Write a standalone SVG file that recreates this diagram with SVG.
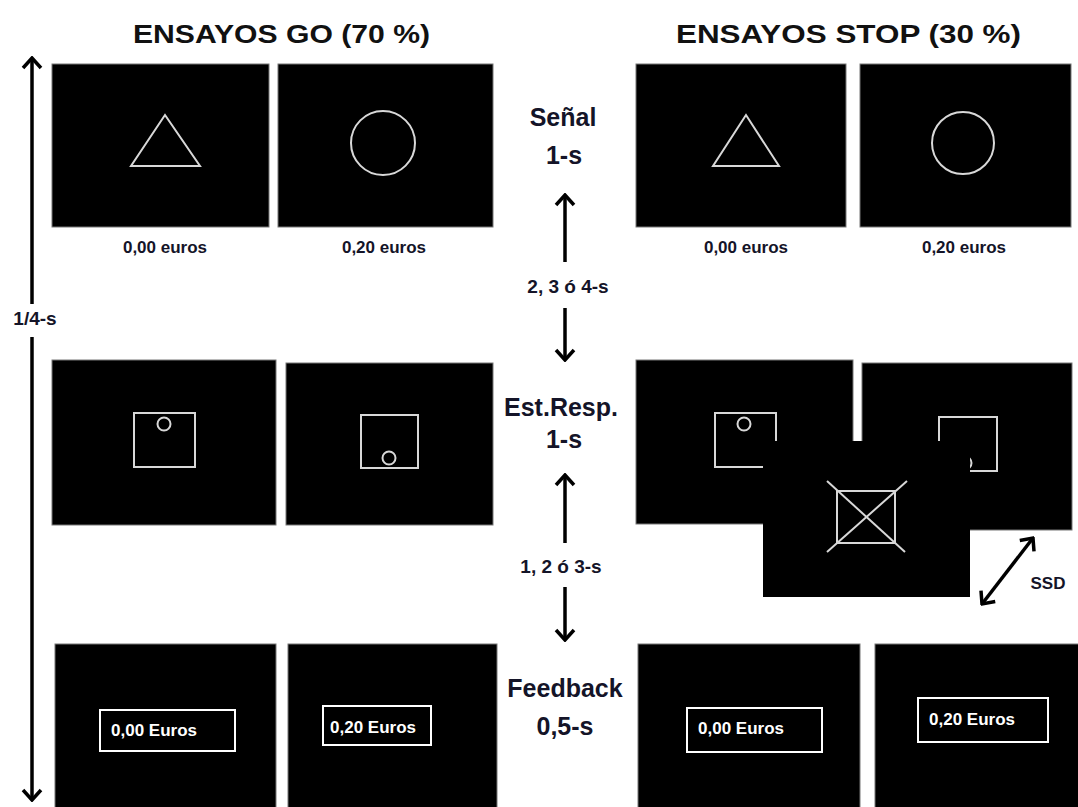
<svg xmlns="http://www.w3.org/2000/svg" width="1078" height="807" viewBox="0 0 1078 807">
<defs>
<style>
.scr{fill:#000;stroke:#777;stroke-width:1}
.scr2{fill:#000;stroke:none}
.shp{fill:none;stroke:#d8d8d8;stroke-width:2}
.ttl{font-family:"Liberation Sans",Arial,sans-serif;font-weight:bold;font-size:26px;fill:#111}
.mid{font-family:"Liberation Sans",Arial,sans-serif;font-weight:bold;font-size:25px;fill:#141428;text-anchor:middle}
.lbl{font-family:"Liberation Sans",Arial,sans-serif;font-weight:bold;font-size:17px;fill:#141428;text-anchor:middle}
.dur{font-family:"Liberation Sans",Arial,sans-serif;font-weight:bold;font-size:19px;fill:#141428;text-anchor:middle}
.eur{font-family:"Liberation Sans",Arial,sans-serif;font-weight:bold;font-size:17px;fill:#fff}
.box{fill:none;stroke:#fff;stroke-width:2}
.arr{stroke:#000;stroke-width:3.5;fill:none}
</style>
<marker id="ah" viewBox="-12 -11 14 22" markerWidth="14" markerHeight="22" refX="0" refY="0" markerUnits="userSpaceOnUse" orient="auto-start-reverse">
<path d="M-10,-9 L0,0 L-10,9" fill="none" stroke="#000" stroke-width="3.5"/>
</marker>
</defs>
<rect width="1078" height="807" fill="#fff"/>

<g id="titles">
<text class="ttl" x="133" y="43" textLength="297" lengthAdjust="spacingAndGlyphs">ENSAYOS GO (70 %)</text>
<text class="ttl" x="676" y="43" textLength="345" lengthAdjust="spacingAndGlyphs">ENSAYOS STOP (30 %)</text>
</g>

<g id="go-signal-0">
<rect class="scr" x="52" y="64" width="217" height="163"/>
<polygon class="shp" points="165,115 131,166 200,166"/>
<text class="lbl" x="165" y="253">0,00 euros</text>
</g>
<g id="go-signal-20">
<rect class="scr" x="278" y="64" width="215" height="163"/>
<circle class="shp" cx="383" cy="143" r="32"/>
<text class="lbl" x="384" y="253">0,20 euros</text>
</g>
<g id="stop-signal-0">
<rect class="scr" x="636" y="64" width="210" height="163"/>
<polygon class="shp" points="746,115 713,166 779,166"/>
<text class="lbl" x="746" y="253">0,00 euros</text>
</g>
<g id="stop-signal-20">
<rect class="scr" x="860" y="64" width="211" height="163"/>
<circle class="shp" cx="963" cy="143" r="31"/>
<text class="lbl" x="964" y="253">0,20 euros</text>
</g>

<g id="go-resp-1">
<rect class="scr" x="52" y="360" width="224" height="165"/>
<rect class="shp" x="134" y="413" width="61" height="54"/>
<circle class="shp" cx="164" cy="424" r="6.5"/>
</g>
<g id="go-resp-2">
<rect class="scr" x="286" y="363" width="207" height="162"/>
<rect class="shp" x="361" y="415" width="57" height="53"/>
<circle class="shp" cx="389" cy="458" r="6.5"/>
</g>
<g id="stop-resp-1">
<rect class="scr" x="636" y="360" width="217" height="164"/>
<rect class="shp" x="715" y="413" width="61" height="54"/>
<circle class="shp" cx="744" cy="424" r="6.5"/>
</g>
<g id="stop-resp-2">
<rect class="scr" x="862" y="363" width="210" height="167"/>
<rect class="shp" x="939" y="417" width="58" height="54"/>
<circle class="shp" cx="965" cy="463" r="6.5"/>
</g>
<g id="stop-signal">
<rect class="scr2" x="763" y="441" width="207" height="156"/>
<rect class="shp" x="837" y="491" width="58" height="52"/>
<line class="shp" x1="827" y1="481" x2="905" y2="552"/>
<line class="shp" x1="907" y1="481" x2="827" y2="552"/>
</g>

<g id="go-fb-0">
<rect class="scr" x="55" y="644" width="221" height="165"/>
<rect class="box" x="100" y="710" width="135" height="41"/>
<text class="eur" x="111" y="736">0,00 Euros</text>
</g>
<g id="go-fb-20">
<rect class="scr" x="288" y="644" width="209" height="165"/>
<rect class="box" x="323" y="706" width="108" height="39"/>
<text class="eur" x="330" y="733">0,20 Euros</text>
</g>
<g id="stop-fb-0">
<rect class="scr" x="638" y="644" width="222" height="165"/>
<rect class="box" x="687" y="708" width="135" height="44"/>
<text class="eur" x="698" y="734">0,00 Euros</text>
</g>
<g id="stop-fb-20">
<rect class="scr" x="875" y="644" width="215" height="165"/>
<rect class="box" x="918" y="698" width="130" height="44"/>
<text class="eur" x="929" y="725">0,20 Euros</text>
</g>

<g id="phase-labels">
<text class="mid" x="563" y="126">Señal</text>
<text class="mid" x="564" y="164">1-s</text>
<text class="dur" x="568" y="293">2, 3 ó 4-s</text>
<text class="mid" x="561" y="416">Est.Resp.</text>
<text class="mid" x="564" y="448">1-s</text>
<text class="dur" x="561" y="573">1, 2 ó 3-s</text>
<text class="mid" x="565" y="697">Feedback</text>
<text class="mid" x="565" y="735">0,5-s</text>
<text class="dur" x="35" y="325">1/4-s</text>
<text class="lbl" x="1048" y="589">SSD</text>
</g>

<g id="connectors">
<line class="arr" x1="565" y1="262" x2="565" y2="195" marker-end="url(#ah)"/>
<line class="arr" x1="565" y1="308" x2="565" y2="360" marker-end="url(#ah)"/>
<line class="arr" x1="565" y1="543" x2="565" y2="475" marker-end="url(#ah)"/>
<line class="arr" x1="565" y1="587" x2="565" y2="640" marker-end="url(#ah)"/>
<line class="arr" x1="32" y1="304" x2="32" y2="58" marker-end="url(#ah)"/>
<line class="arr" x1="32" y1="337" x2="32" y2="800" marker-end="url(#ah)"/>
<line class="arr" x1="982" y1="604" x2="1033" y2="538" marker-start="url(#ah)" marker-end="url(#ah)"/>
</g>
</svg>
